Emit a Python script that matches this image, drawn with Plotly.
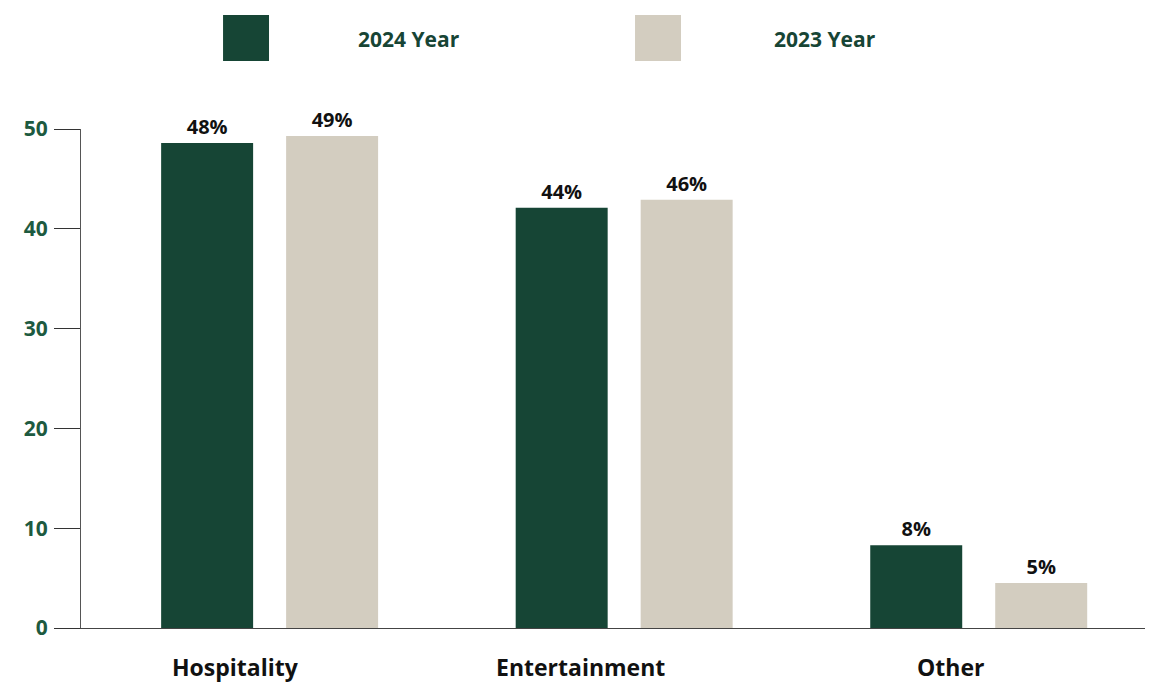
import plotly.graph_objects as go

categories = ["Hospitality", "Entertainment", "Other"]
series_names = ["2024 Year", "2023 Year"]
values_2024 = [48.6, 42.1, 8.3]
values_2023 = [49.3, 42.9, 4.5]
labels_2024 = ["48%", "44%", "8%"]
labels_2023 = ["49%", "46%", "5%"]
y_ticks = [0, 10, 20, 30, 40, 50]

colors = ["#164535", "#d3cdc0"]
FONT = "Open Sans"

fig = go.Figure()
for name, vals, labs, col in zip(series_names, [values_2024, values_2023],
                                 [labels_2024, labels_2023], colors):
    fig.add_trace(go.Bar(
        x=categories, y=vals, name=name, marker=dict(color=col, line=dict(width=0)),
        text=labs, textposition="outside", cliponaxis=False,
        textfont=dict(family=FONT, size=20, color="#111111", weight="bold"),
        hoverinfo="skip", showlegend=False,
    ))

# manual legend (large swatches)
legend_pos = [(0.1335, 0.1767, 0.3087), (0.5207, 0.5639, 0.6997)]
for (x0, x1, xt), col, name in zip(legend_pos, colors, series_names):
    fig.add_shape(type="rect", xref="paper", yref="paper", x0=x0, x1=x1,
                  y0=1.1363, y1=1.2285, fillcolor=col, line=dict(width=0))
    fig.add_annotation(xref="paper", yref="paper", x=xt, y=1.1804, text=name,
                       showarrow=False, xanchor="center", yanchor="middle",
                       font=dict(family=FONT, size=21, color="#174535", weight="bold"))

# category labels (slightly left of group centres, as in the reference)
label_shift = [-34, -44, -28]
for i, (cat, dx) in enumerate(zip(categories, label_shift)):
    fig.add_annotation(xref="x", yref="paper", x=i, y=-0.078, xshift=dx,
                       text=cat, showarrow=False, xanchor="center", yanchor="middle",
                       font=dict(family=FONT, size=23, color="#111111", weight="bold"))

fig.update_layout(
    width=1150, height=682,
    margin=dict(l=81, r=5, t=129, b=54, autoexpand=False),
    paper_bgcolor="white", plot_bgcolor="white",
    barmode="group", bargap=0.295, bargroupgap=0.264,
    font=dict(family=FONT),
)
fig.update_xaxes(
    range=[-0.532, 2.469], automargin=False,
    showline=True, linecolor="#444444", linewidth=1.3,
    ticks="", showgrid=False, showticklabels=False,
)
fig.update_yaxes(
    range=[0, 50], tickvals=y_ticks, showgrid=False, zeroline=False,
    automargin=False,
    showline=True, linecolor="#555555", linewidth=1.3,
    ticks="outside", ticklen=26, tickcolor="#333333", tickwidth=1.3,
    ticklabelstandoff=2,
    tickfont=dict(family=FONT, size=21, color="#1d5a40", weight="bold"),
)

fig.write_html("out.html")
